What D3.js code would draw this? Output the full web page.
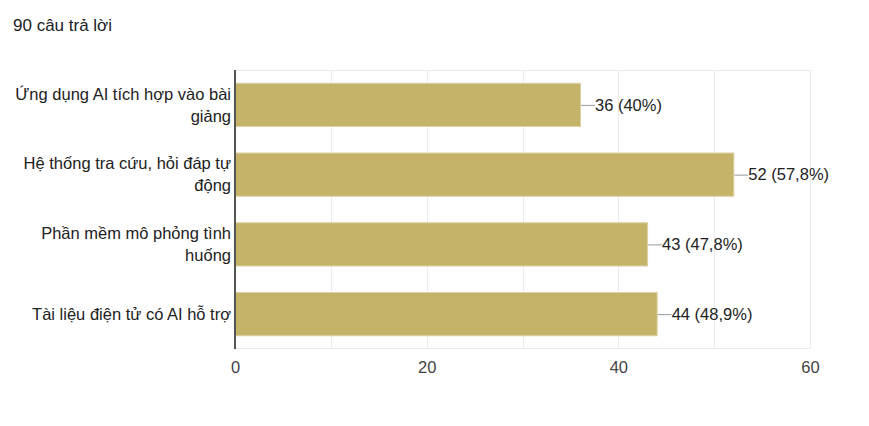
<!DOCTYPE html>
<html>
<head>
<meta charset="utf-8">
<script src="https://cdn.jsdelivr.net/npm/d3@7"></script>
<style>
  body { margin: 0; background: #fff; }
  text { font-family: Arial, "Liberation Sans", sans-serif; }
</style>
</head>
<body>
<svg id="chart"></svg>
<script>
var title = "90 câu trả lời";
var categories = [
  "Ứng dụng AI tích hợp vào bài giảng",
  "Hệ thống tra cứu, hỏi đáp tự động",
  "Phần mềm mô phỏng tình huống",
  "Tài liệu điện tử có AI hỗ trợ"
];
var counts = [36, 52, 43, 44];
var percents = ["40%", "57,8%", "47,8%", "48,9%"];
var tickValues = [0, 20, 40, 60];
var gridValues = [10, 20, 30, 40, 50, 60];

var W = 869, H = 426;
var margin = {top: 70, right: 59, bottom: 77, left: 235};
var width = W - margin.left - margin.right,
    height = H - margin.top - margin.bottom;
var fs = "16.5px";

var svg = d3.select("#chart").attr("width", W).attr("height", H);

svg.append("text")
  .attr("x", 13).attr("y", 31)
  .attr("fill", "#202124")
  .style("font-size", "17px")
  .text(title);

var g = svg.append("g").attr("transform", "translate(" + margin.left + "," + margin.top + ")");

var x = d3.scaleLinear().domain([0, 60]).range([0, width]);
var y = d3.scaleBand().domain(categories).range([0, height]).paddingInner(0.38).paddingOuter(0.19);

// grid
g.selectAll("line.grid")
  .data(gridValues)
  .enter().append("line")
  .attr("class", "grid")
  .attr("x1", function(d){ return Math.round(x(d)) + 0.5; })
  .attr("x2", function(d){ return Math.round(x(d)) + 0.5; })
  .attr("y1", 0).attr("y2", height)
  .attr("stroke", "#ebebeb");

g.append("line").attr("x1", 0).attr("x2", width).attr("y1", 0.5).attr("y2", 0.5).attr("stroke", "#ebebeb");
g.append("line").attr("x1", 0).attr("x2", width).attr("y1", height - 0.5).attr("y2", height - 0.5).attr("stroke", "#ebebeb");

var data = categories.map(function(c, i){
  return {cat: c, n: counts[i], p: percents[i]};
});

// bars
g.selectAll("rect.bar")
  .data(data)
  .enter().append("rect")
  .attr("class", "bar")
  .attr("x", 0.5)
  .attr("y", function(d){ return y(d.cat); })
  .attr("width", function(d){ return x(d.n); })
  .attr("height", y.bandwidth())
  .attr("fill", "#c5b36a")
  .attr("stroke", "#dcd1a2")
  .attr("stroke-width", 1);

// value labels with connector
var lab = g.selectAll("g.val")
  .data(data)
  .enter().append("g")
  .attr("class", "val")
  .attr("transform", function(d){ return "translate(" + x(d.n) + "," + (y(d.cat) + y.bandwidth() / 2) + ")"; });
lab.append("line")
  .attr("x1", 1).attr("x2", 15).attr("y1", 0.5).attr("y2", 0.5)
  .attr("stroke", "#999");
lab.append("text")
  .attr("x", 15).attr("dy", "0.35em")
  .attr("fill", "#222")
  .style("font-size", fs)
  .text(function(d){ return d.n + " (" + d.p + ")"; });

// category labels, wrapped
var maxW = 218, lineH = 22;
g.selectAll("text.cat")
  .data(data)
  .enter().append("text")
  .attr("class", "cat")
  .attr("text-anchor", "end")
  .attr("fill", "#222")
  .style("font-size", fs)
  .each(function(d){
    var t = d3.select(this);
    var words = d.cat.split(" "), lines = [], cur = [];
    words.forEach(function(w){
      cur.push(w);
      t.text(cur.join(" "));
      if (t.node().getComputedTextLength() > maxW && cur.length > 1) {
        cur.pop();
        lines.push(cur.join(" "));
        cur = [w];
      }
    });
    lines.push(cur.join(" "));
    t.text(null);
    var cy = y(d.cat) + y.bandwidth() / 2;
    var y0 = cy - (lines.length - 1) * lineH / 2;
    lines.forEach(function(l, i){
      t.append("tspan").attr("x", -4).attr("y", y0 + i * lineH).attr("dy", "0.35em").text(l);
    });
  });

// left axis line
g.append("line")
  .attr("x1", 0).attr("x2", 0).attr("y1", 0).attr("y2", height)
  .attr("stroke", "#555").attr("stroke-width", 2);

// x axis tick labels
var xAxis = d3.axisBottom(x).tickValues(tickValues).tickSize(0).tickPadding(12);
var ax = g.append("g").attr("transform", "translate(0," + height + ")").call(xAxis);
ax.select(".domain").remove();
ax.selectAll("text")
  .attr("fill", "#444")
  .style("font-size", fs)
  .style("font-family", "Arial, 'Liberation Sans', sans-serif");
</script>
</body>
</html>
